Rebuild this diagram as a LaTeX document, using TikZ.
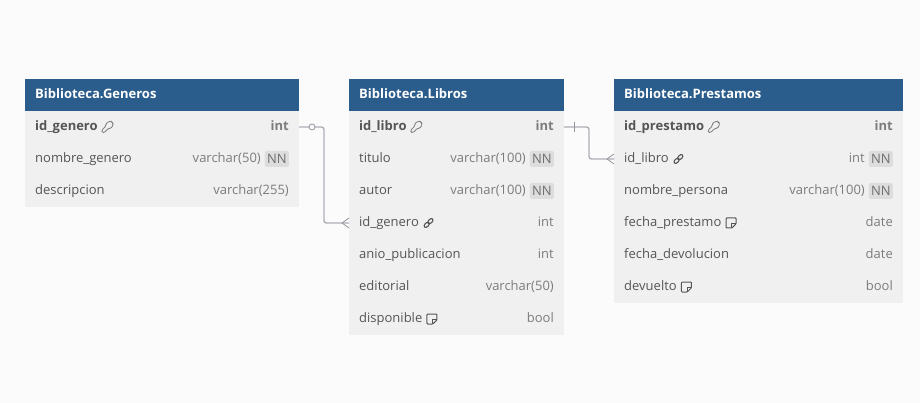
\documentclass[tikz,border=0pt]{standalone}
\usepackage{fontspec}
\setmainfont{Open Sans}
\usepackage{xcolor}
\usetikzlibrary{calc}
\definecolor{pagebg}{HTML}{FBFBFB}
\definecolor{headblue}{HTML}{2A5C8C}
\definecolor{rowbg}{HTML}{F0F0F0}
\definecolor{nnbg}{HTML}{DDDDDD}
\definecolor{fldtext}{HTML}{555555}
\definecolor{typtext}{HTML}{7C7C7C}
\definecolor{linkgray}{HTML}{AEAEB6}
\tikzset{
  tblhead/.style={rectangle,fill=headblue,text=white,anchor=north west,inner sep=0pt,outer sep=0pt,minimum height=32pt},
  tblrow/.style={rectangle,fill=rowbg,anchor=north west,inner sep=0pt,outer sep=0pt,minimum height=32pt},
  headtext/.style={anchor=west,inner sep=0pt,text=white,font=\fontsize{13}{15}\selectfont\bfseries,text height=9.5pt,text depth=3pt},
  fldname/.style={anchor=west,inner sep=0pt,text=fldtext,font=\fontsize{13}{15}\selectfont,text height=9.5pt,text depth=3pt},
  fldtype/.style={anchor=east,inner sep=0pt,text=typtext,font=\fontsize{13}{15}\selectfont,text height=9.5pt,text depth=3pt},
  keyname/.style={fldname,font=\fontsize{13}{15}\selectfont\bfseries},
  keytype/.style={fldtype,font=\fontsize{13}{15}\selectfont\bfseries},
  nnbadge/.style={anchor=east,fill=nnbg,rounded corners=1.5pt,inner sep=0pt,text=fldtext!85,minimum width=24pt,minimum height=16pt,font=\fontsize{13}{15}\selectfont},
  relline/.style={draw=linkgray,line width=1.4pt,rounded corners=2.5pt},
  relmark/.style={draw=linkgray!85!black,line width=0.8pt},
  keyicon/.pic={
    \draw[typtext,line width=0.8pt,rounded corners=1.2pt] (-5.5,5.5) -- (-5.5,3) -- (-1.6,-0.8) -- (-1.6,-3) -- (1,-5.5) -- (4,-5.5) -- (5.5,-4) -- (5.5,-1) -- (3,1.5) -- (0.8,1.5) -- (-3,5.5) -- cycle;
  },
  linkicon/.pic={
    \draw[fldtext,line width=1.1pt,rotate=45] (-2.6,0) ellipse (3.1 and 1.9);
    \draw[fldtext,line width=1.1pt,rotate=45] (2.6,0) ellipse (3.1 and 1.9);
  },
  noteicon/.pic={
    \draw[fldtext,line width=1pt,rounded corners=0.8pt] (0.8,5) -- (-5,5) -- (-5,-5) -- (5,-5) -- (5,0.8) -- cycle;
    \draw[fldtext,line width=1pt] (0.8,5) -- (0.8,0.8) -- (5,0.8);
  },
}
\begin{document}
\begin{tikzpicture}[x=1pt,y=-1pt]
   \useasboundingbox[fill=pagebg] (0,0) rectangle (920,403);

   % Generos
   \node[tblhead,minimum width=274pt] (generos) at (25,79) {};
   \node[headtext] (generos-title) at ([xshift=10pt]generos.west) {Biblioteca.Generos};
   \foreach \i in {1,...,3}
      \node[tblrow,minimum width=274pt] (generos-\i) at (25,{79+32*\i}) {};
   \node[keyname] (generos-1-name) at ([xshift=10pt]generos-1.west) {id\_genero};
   \node[keytype] (generos-1-type) at ([xshift=-10pt]generos-1.east) {int};
   \foreach \i/\fld/\typ/\off in {2/nombre\_genero/varchar(50)/38,3/descripcion/varchar(255)/10} {
      \node[fldname] (generos-\i-name) at ([xshift=10pt]generos-\i.west) {\fld};
      \node[fldtype] (generos-\i-type) at ([xshift=-\off pt]generos-\i.east) {\typ};
   }
   \node[nnbadge] (generos-2-nn) at ([xshift=-10pt]generos-2.east) {NN};
   \pic at ([xshift=9.5pt]generos-1-name.east) {keyicon};

   % Libros
   \node[tblhead,minimum width=215pt] (libros) at (349,79) {};
   \node[headtext] (libros-title) at ([xshift=10pt]libros.west) {Biblioteca.Libros};
   \foreach \i in {1,...,7}
      \node[tblrow,minimum width=215pt] (libros-\i) at (349,{79+32*\i}) {};
   \node[keyname] (libros-1-name) at ([xshift=10pt]libros-1.west) {id\_libro};
   \node[keytype] (libros-1-type) at ([xshift=-10pt]libros-1.east) {int};
   \foreach \i/\fld/\typ/\off in {2/titulo/varchar(100)/38,3/autor/varchar(100)/38,4/id\_genero/int/10,
         5/anio\_publicacion/int/10,6/editorial/varchar(50)/10,7/disponible/bool/10} {
      \node[fldname] (libros-\i-name) at ([xshift=10pt]libros-\i.west) {\fld};
      \node[fldtype] (libros-\i-type) at ([xshift=-\off pt]libros-\i.east) {\typ};
   }
   \foreach \i in {2,3}
      \node[nnbadge] (libros-\i-nn) at ([xshift=-10pt]libros-\i.east) {NN};
   \pic at ([xshift=9.5pt]libros-1-name.east) {keyicon};
   \pic at ([xshift=9.5pt]libros-4-name.east) {linkicon};
   \pic at ([xshift=9.5pt]libros-7-name.east) {noteicon};

   % Prestamos
   \node[tblhead,minimum width=289pt] (prestamos) at (614,79) {};
   \node[headtext] (prestamos-title) at ([xshift=10pt]prestamos.west) {Biblioteca.Prestamos};
   \foreach \i in {1,...,6}
      \node[tblrow,minimum width=289pt] (prestamos-\i) at (614,{79+32*\i}) {};
   \node[keyname] (prestamos-1-name) at ([xshift=10pt]prestamos-1.west) {id\_prestamo};
   \node[keytype] (prestamos-1-type) at ([xshift=-10pt]prestamos-1.east) {int};
   \foreach \i/\fld/\typ/\off in {2/id\_libro/int/38,3/nombre\_persona/varchar(100)/38,4/fecha\_prestamo/date/10,
         5/fecha\_devolucion/date/10,6/devuelto/bool/10} {
      \node[fldname] (prestamos-\i-name) at ([xshift=10pt]prestamos-\i.west) {\fld};
      \node[fldtype] (prestamos-\i-type) at ([xshift=-\off pt]prestamos-\i.east) {\typ};
   }
   \foreach \i in {2,3}
      \node[nnbadge] (prestamos-\i-nn) at ([xshift=-10pt]prestamos-\i.east) {NN};
   \pic at ([xshift=9.5pt]prestamos-1-name.east) {keyicon};
   \pic at ([xshift=9.5pt]prestamos-2-name.east) {linkicon};
   \pic at ([xshift=9.5pt]prestamos-4-name.east) {noteicon};
   \pic at ([xshift=9.5pt]prestamos-6-name.east) {noteicon};

   % relations
   \draw[relline] (generos-1.east) -- ++(25,0) |- (libros-4.west);
   \draw[relline] (libros-1.east) -- ++(25,0) |- (prestamos-2.west);

   % ends of the relations
   \draw[relmark,fill=pagebg] ([xshift=13pt]generos-1.east) circle (3);
   \draw[relmark] ([xshift=10pt,yshift=5pt]libros-1.east) -- ++(0,10);
   \foreach \t in {libros-4,prestamos-2} {
      \draw[relmark] ([xshift=-7pt]\t.west) -- ([yshift=5pt]\t.west);
      \draw[relmark] ([xshift=-7pt]\t.west) -- ([yshift=-5pt]\t.west);
   }
\end{tikzpicture}
\end{document}
